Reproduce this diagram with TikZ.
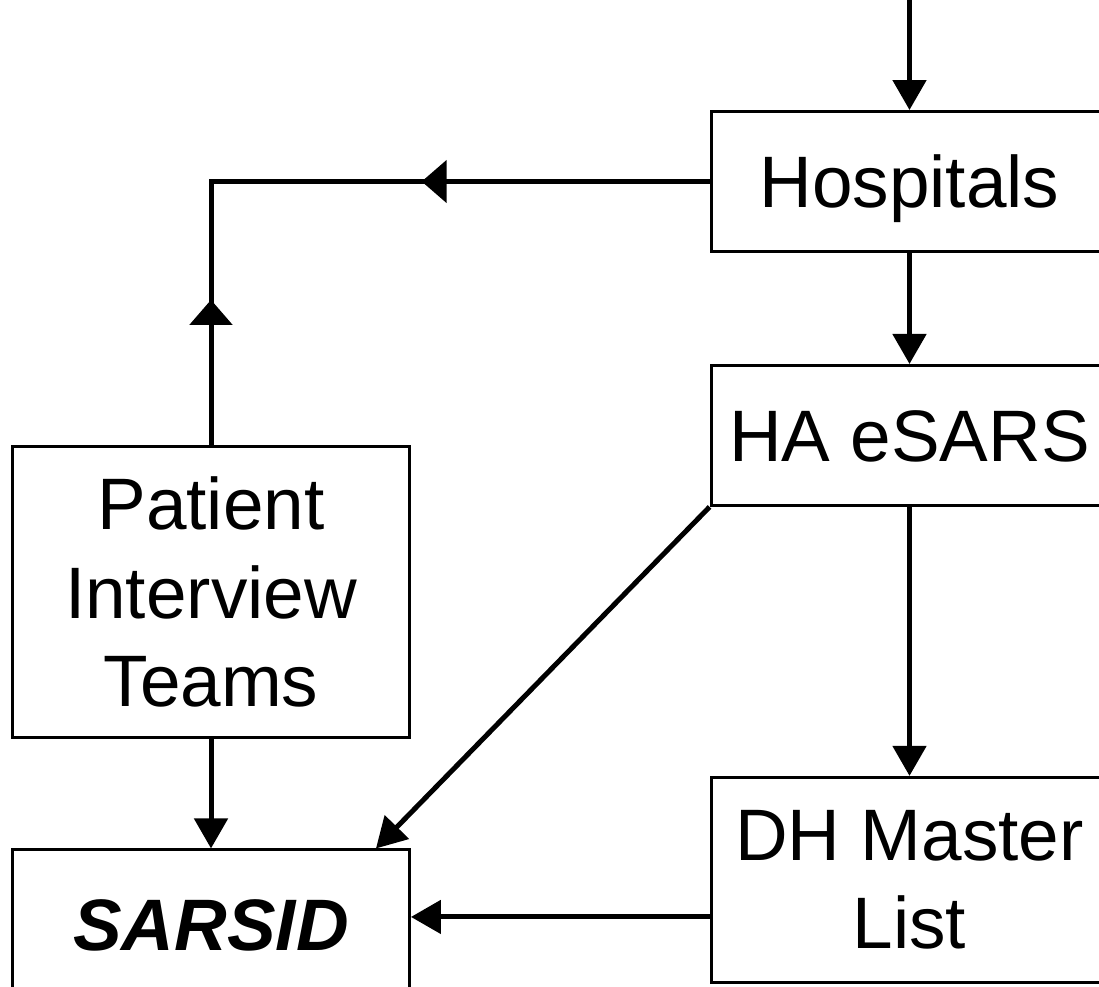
\documentclass[tikz,border=0pt]{standalone}
\usepackage{fontspec}
\setmainfont{Liberation Sans}
\usetikzlibrary{positioning,arrows.meta,decorations.markings}

\begin{document}
\begin{tikzpicture}[
    x=0.02cm, y=-0.02cm,
    unit/.style={draw, rectangle, line width=0.06cm, minimum width=7.94cm, minimum height=2.8cm, inner sep=0pt, align=center, font=\fontsize{41.5}{50.5}\selectfont},
    oneline/.style={text height=1.04cm, text depth=0pt},
    arrow/.style={line width=0.1cm, -{Triangle[length=0.6cm, width=0.66cm]}},
    feedback/.style={line width=0.1cm, postaction={decorate}, decoration={markings,
        mark=at position 0.378 with {\arrow{Triangle[length=0.5cm, width=0.84cm]}},
        mark=at position 0.81 with {\arrowreversed{Triangle[length=0.5cm, width=0.84cm]}}}}
]
  \useasboundingbox (0,0) rectangle (1099,987);

  % Nodes
  \node (hosp) [unit, oneline] at (909.5,181.5) {Hospitals};
  \node (esars) [unit, oneline, below=2.22cm of hosp] {HA eSARS};
  \node (dh) [unit, minimum height=4.1cm, below=5.38cm of esars] {DH Master\\List};
  \node (pit) [unit, minimum height=5.84cm] at (211,592) {Patient\\Interview\\Teams};
  \node (sarsid) [unit, oneline, minimum height=3cm, below=2.18cm of pit] {\textbf{\textit{SARSID}}};

  \coordinate (entry) at (909.5,-10);
  \coordinate (corner) at (pit.north |- hosp.west);
  \coordinate (listin) at ([yshift=0.16cm]sarsid.east);

  % Arrows
  \draw [arrow] (entry) -- (hosp.north);
  \draw [arrow] (hosp) -- (esars);
  \draw [arrow] (esars) -- (dh);
  \draw [arrow] (esars.south west) -- ([xshift=-0.7cm]sarsid.north east);
  \draw [arrow] (pit) -- (sarsid);
  \draw [arrow] (dh.west |- listin) -- (listin);
  \draw [feedback] (hosp.west) -- (corner) -- (pit.north);
\end{tikzpicture}
\end{document}
